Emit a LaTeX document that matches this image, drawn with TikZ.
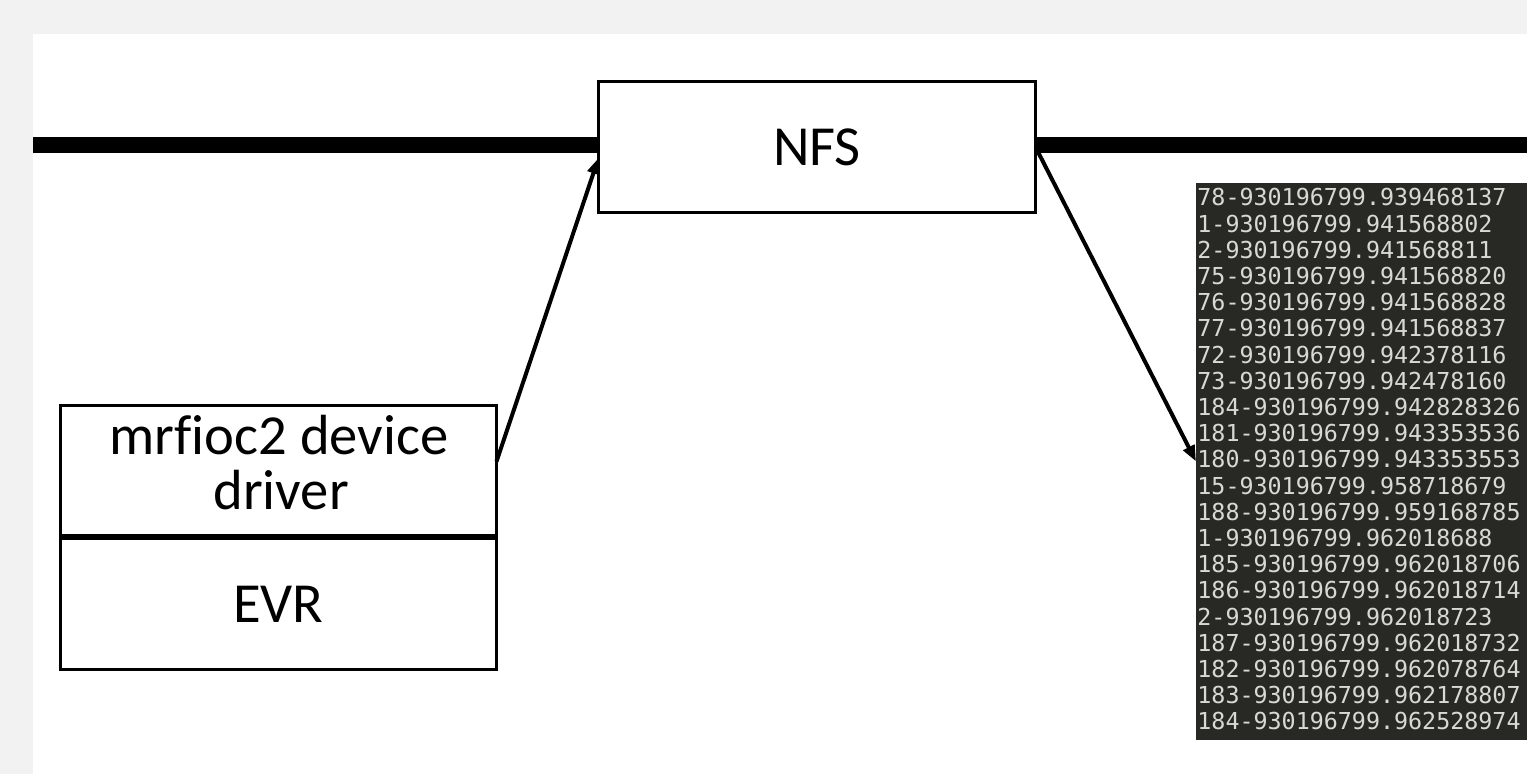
\documentclass[tikz,border=0pt]{standalone}
\usepackage{fontspec}
\setmainfont{Carlito}[Ligatures=CommonOff]
\newfontfamily\termfont{DejaVu Sans Mono}
\usetikzlibrary{arrows.meta,calc}
\definecolor{bggrey}{HTML}{F2F2F2}
\definecolor{termbg}{HTML}{282825}
\definecolor{termfg}{HTML}{D8D8D4}
\begin{document}
\begin{tikzpicture}[x=0.5pt,y=-0.5pt,
  box/.style={draw=black,line width=1.5pt,fill=white,inner sep=0pt,outer sep=0pt,
    font=\fontsize{28.3}{27.5}\selectfont},
  lbl/.style={font=\fontsize{28.3}{27.5}\selectfont,inner sep=0pt,anchor=base},
  arr/.style={line width=2pt,-{Triangle[length=8pt,width=6pt]}},
  bus/.style={line width=8pt},
  tline/.style={font=\termfont\fontsize{11.67}{12}\selectfont,text=termfg,inner sep=0pt,anchor=base west}]
\useasboundingbox (0,0) rectangle (1527,774);
\fill[bggrey] (0,0) rectangle (1527,774);
\fill[white] (33,34) rectangle (1527,774);
% bus
\coordinate (busL) at (33,145.5);
\coordinate (busR) at (1527,145.5);
\node[box,minimum width=218.5pt,minimum height=65.5pt] (nfs) at (817,147) {NFS};
\draw[bus] (busL) -- (busL -| nfs.west);
\draw[bus] (busR -| nfs.east) -- (busR);
% driver / EVR stack
\node[box,minimum width=218pt,minimum height=65pt] (drv) at (278.5,470.5) {};
\node[lbl] (drvt1) at (279,455) {mrfioc2 device};
\node[lbl] (drvt2) at (281,510) {driver};
\node[box,minimum width=218pt,minimum height=65.5pt] (evr) at (278.5,604) {EVR};
% terminal
\node[fill=termbg,inner sep=0pt,outer sep=0pt,minimum width=165.5pt,minimum height=278.5pt,anchor=north west] (term) at (1196,183) {};
\foreach \t [count=\i from 0] in {78-930196799.939468137,1-930196799.941568802,2-930196799.941568811,75-930196799.941568820,76-930196799.941568828,77-930196799.941568837,72-930196799.942378116,73-930196799.942478160,184-930196799.942828326,181-930196799.943353536,180-930196799.943353553,15-930196799.958718679,188-930196799.959168785,1-930196799.962018688,185-930196799.962018706,186-930196799.962018714,2-930196799.962018723,187-930196799.962018732,182-930196799.962078764,183-930196799.962178807,184-930196799.962528974}
  \node[tline] (tl\i) at (1197,{206+26.2*\i}) {\t};
% arrows
\draw[arr] ($(drv.north east)+(0,56)$) -- ($(nfs.west)+(0,11)$);
\draw[arr] (nfs.east) -- (term.west);
\end{tikzpicture}
\end{document}
